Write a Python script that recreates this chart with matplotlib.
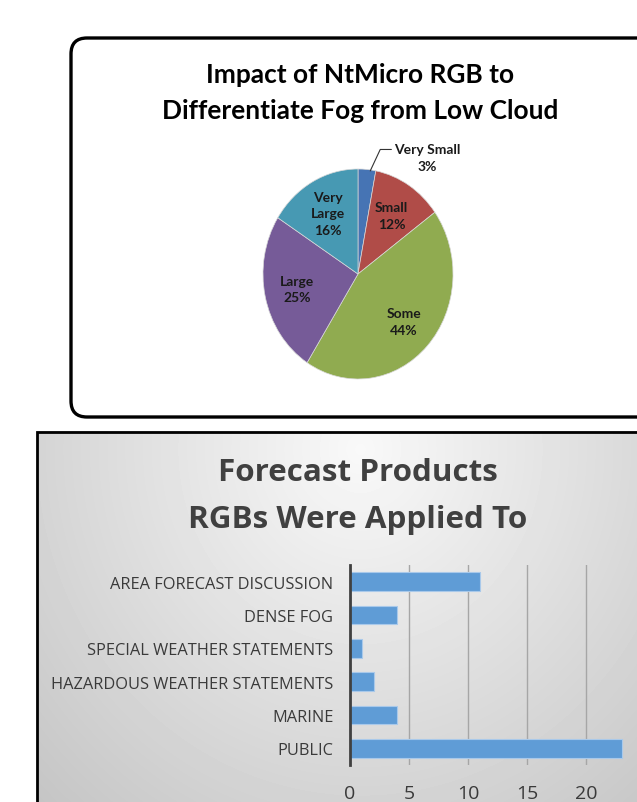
import numpy as np
import matplotlib
matplotlib.use("Agg")
from matplotlib import pyplot as plt
from matplotlib.patches import FancyBboxPatch

# pie data
pie_categories = ["Very Small", "Small", "Some", "Large", "Very\nLarge"]
pie_percent = [3, 12, 44, 25, 16]
pie_colors = ["#4674b4", "#b04c48", "#90ab50", "#765b98", "#4799b3"]

# bar data
bar_categories = ["AREA FORECAST DISCUSSION", "DENSE FOG", "SPECIAL WEATHER STATEMENTS",
                  "HAZARDOUS WEATHER STATEMENTS", "MARINE", "PUBLIC"]
bar_values = [11, 4, 1, 2, 4, 23]
x_ticks = [0, 5, 10, 15, 20]

W, H = 637, 803
fig = plt.figure(figsize=(W / 100, H / 100), dpi=100)
fig.patch.set_facecolor("white")


def px_axes(left, top, right, bottom, **kw):
    # axes placed by pixel box (top-left origin)
    return fig.add_axes([left / W, 1 - bottom / H, (right - left) / W, (bottom - top) / H], **kw)


# background layer in pixel units
bg = px_axes(0, 0, W, H)
bg.set_xlim(0, W)
bg.set_ylim(H, 0)
bg.axis("off")

# top rounded frame
bg.add_patch(FancyBboxPatch((71, 39), 600, 379, boxstyle="round,pad=0,rounding_size=16",
                            fc="white", ec="black", lw=2.4))

# bottom panel with soft grey gradient
yy, xx = np.mgrid[432:H, 37:W]
d = np.sqrt(((xx - 360) / 430.0) ** 2 + ((yy - 450) / 460.0) ** 2)
shade = np.clip(0.975 - 0.19 * d, 0.76, 1.0)
bg.imshow(shade, cmap="gray", vmin=0, vmax=1, extent=[37, W, H, 432],
          interpolation="bilinear", aspect="auto", zorder=1)
bg.plot([37, 37, W], [H, 432.5, 432.5], color="black", lw=2, zorder=2,
        solid_joinstyle="miter")

# pie title
title_kw = dict(ha="center", va="center", fontsize=18.9, fontweight="bold",
                family="Lato", color="black")
bg.text(360, 75, "Impact of NtMicro RGB to", **title_kw)
bg.text(360, 111, "Differentiate Fog from Low Cloud", **title_kw)

# pie chart (slightly taller than wide, as in the original)
label_kw = dict(fontsize=10, fontweight="bold", family="Lato", color="#1a1a1a",
                linespacing=1.45)
ax_pie = px_axes(263, 170, 453, 380)
wedges, texts = ax_pie.pie(pie_percent, colors=pie_colors, startangle=90, counterclock=False,
                           labels=[f"{c}\n{p}%" for c, p in zip(pie_categories, pie_percent)],
                           labeldistance=0.66,
                           wedgeprops=dict(edgecolor="#d8d8d8", linewidth=0.5),
                           textprops=label_kw)
ax_pie.set_aspect("auto")
ax_pie.set_xlim(-1, 1)
ax_pie.set_ylim(-1, 1)
for t in texts:
    t.set_ha("center")
    t.set_va("center")

# small slice label sits outside with a leader line
w0 = wedges[0]
mid = np.deg2rad((w0.theta1 + w0.theta2) / 2 - 2)
texts[0].set_visible(False)
ax_pie.annotate(texts[0].get_text(), xy=(np.cos(mid), 0.99 * np.sin(mid)),
                xytext=(0.73, 1.11), ha="center", va="center", annotation_clip=False,
                arrowprops=dict(arrowstyle="-", color="#333333", lw=0.8,
                                relpos=(-0.02, 0.78), shrinkA=0, shrinkB=0,
                                connectionstyle="angle,angleA=180,angleB=65,rad=0"),
                **label_kw)

# bar chart title
bar_title_kw = dict(ha="center", va="center", fontsize=22.6, fontweight="bold",
                    family="Open Sans", color="#404040", zorder=3)
bg.text(358, 473, "Forecast Products", **bar_title_kw)
bg.text(358, 520, "RGBs Were Applied To", **bar_title_kw)

# horizontal bars
ax_bar = px_axes(350, 566, W, 766)
ax_bar.patch.set_alpha(0)
y = np.arange(len(bar_categories))
ax_bar.barh(y, bar_values, height=0.56, color="#5f9cd6", edgecolor="#a9c9ea",
            linewidth=0.8, zorder=3)
ax_bar.set_ylim(len(bar_categories) - 0.5, -0.5)
ax_bar.set_xlim(0, 24.3)
ax_bar.set_yticks(y)
ax_bar.set_yticklabels(bar_categories, family="Open Sans", fontsize=11.8, color="#3a3a3a")
ax_bar.set_xticks(x_ticks)
ax_bar.set_xticklabels([str(v) for v in x_ticks], family="Open Sans", fontsize=14,
                       color="#3a3a3a")
ax_bar.tick_params(axis="y", length=0, pad=12)
ax_bar.tick_params(axis="x", length=0, pad=14)
ax_bar.grid(axis="x", color="#a6a6a6", lw=1, zorder=0)
for s in ["top", "right", "bottom"]:
    ax_bar.spines[s].set_visible(False)
ax_bar.spines["left"].set_color("#404040")
ax_bar.spines["left"].set_linewidth(2)
ax_bar.spines["left"].set_zorder(4)

fig.savefig("out.png", dpi=100)
